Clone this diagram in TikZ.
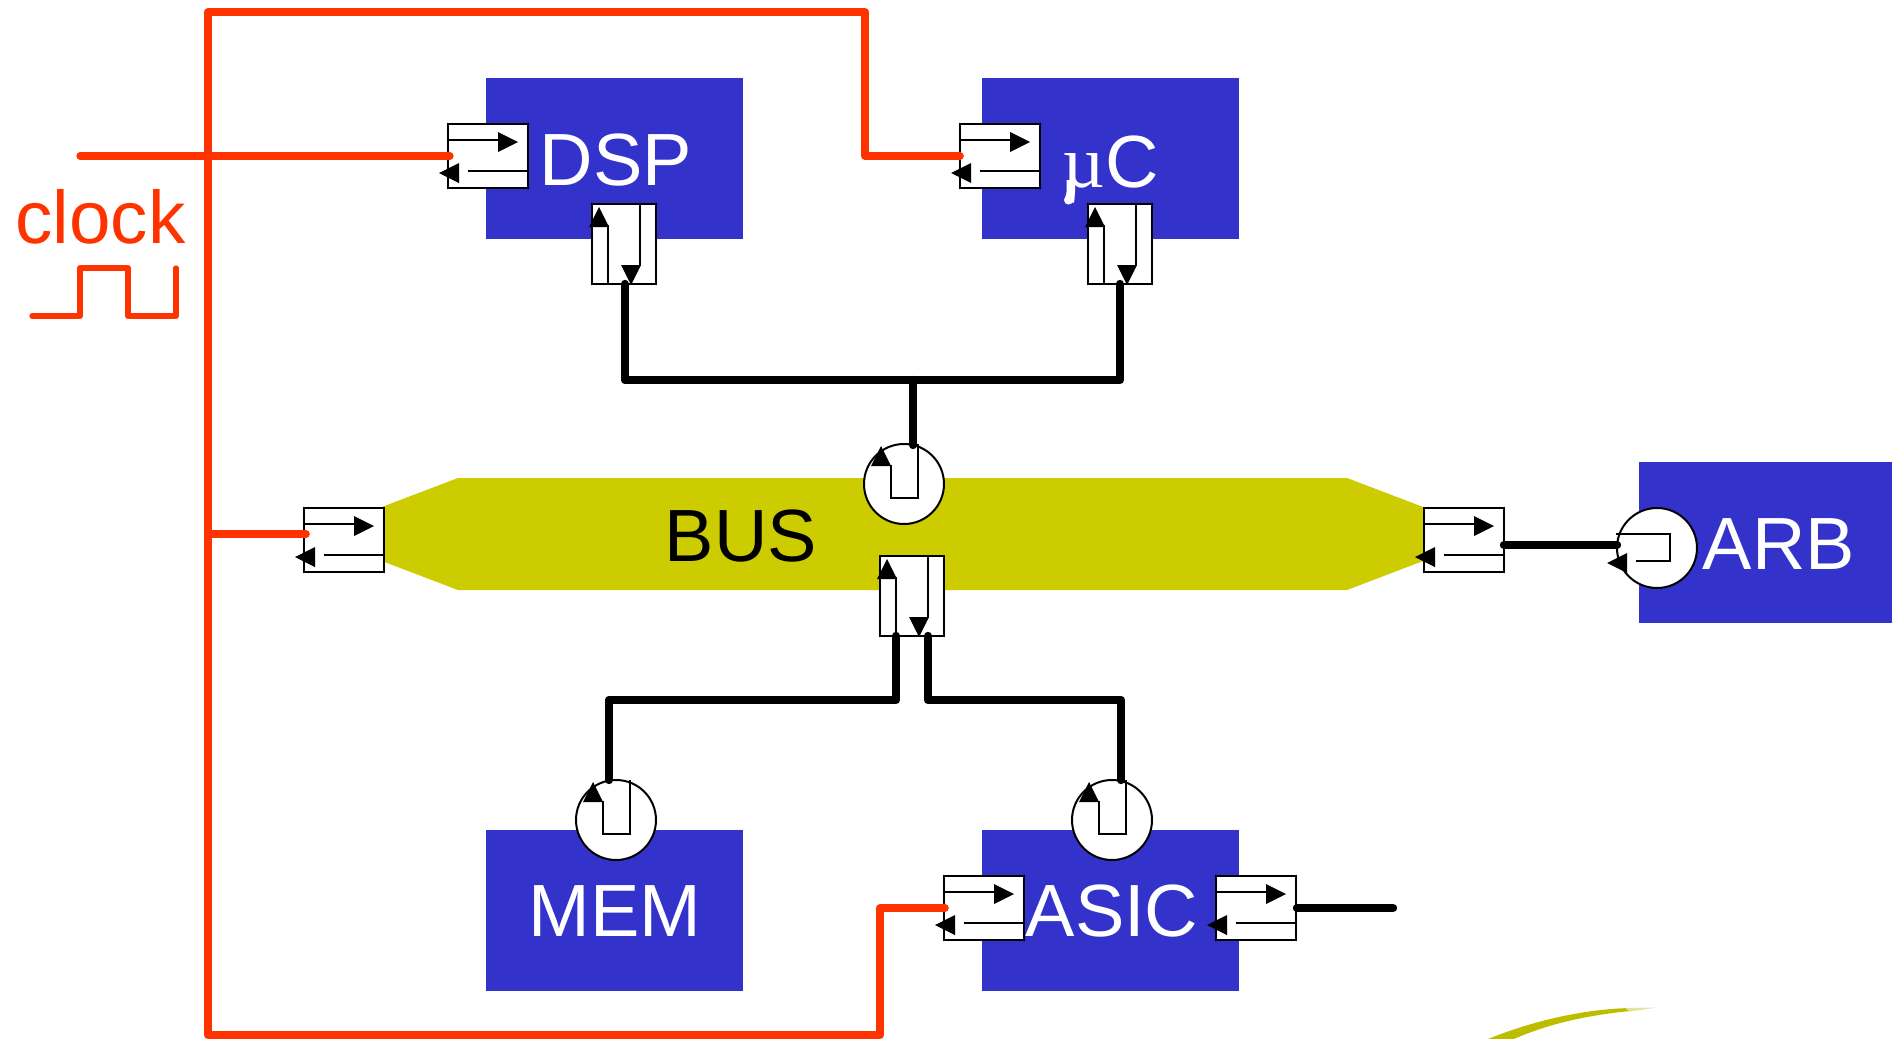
\documentclass[tikz,border=0pt]{standalone}
\usepackage{fontspec}
\setmainfont{Liberation Sans}
\newfontfamily\serifmu{Liberation Serif}
\definecolor{blockblue}{HTML}{3333CC}
\definecolor{busyellow}{HTML}{CCCC00}
\definecolor{clockred}{HTML}{FF3300}
\definecolor{swoosh}{HTML}{BDBD00}
\tikzset{
  blocklabel/.style={text=white,font=\fontsize{37}{37}\selectfont,anchor=base,inner sep=0pt},
  hregbox/.style={draw=black,fill=white,line width=1pt,minimum width=40pt,minimum height=32pt,inner sep=0pt,outer sep=0pt,anchor=north west},
  vregbox/.style={draw=black,fill=white,line width=1pt,minimum width=32pt,minimum height=40pt,inner sep=0pt,outer sep=0pt,anchor=north west},
  portcircle/.style={circle,draw=black,fill=white,line width=1pt,minimum size=40pt,inner sep=0pt,outer sep=0pt},
  thinline/.style={draw=black,line width=1pt},
  tiphead/.style={fill=black,draw=none},
  redwire/.style={draw=clockred,line width=3.8pt,line cap=round,line join=round},
  blackwire/.style={draw=black,line width=4.2pt,line cap=round,line join=round},
}
% horizontal register: name, left, top
\newcommand{\hreg}[3]{%
  \node[hregbox] (#1) at (#2,#3) {};
  \begin{scope}[shift={(#2,#3)}]
    \draw[thinline] (0,15.5) -- (52,15.5);
    \fill[tiphead] (50,8) -- (70,18) -- (50,28) -- cycle;
    \draw[thinline] (80,47) -- (20,47);
    \fill[tiphead] (11,39) -- (-9,49) -- (11,59) -- cycle;
  \end{scope}}
% vertical register: name, left, top
\newcommand{\vreg}[3]{%
  \node[vregbox] (#1) at (#2,#3) {};
  \begin{scope}[shift={(#2,#3)}]
    \draw[thinline] (16,80) -- (16,22) -- (7,22);
    \fill[tiphead] (-3,23) -- (7,3) -- (17,23) -- cycle;
    \draw[thinline] (48,0) -- (48,62);
    \fill[tiphead] (29,61) -- (39,81) -- (49,61) -- cycle;
    \coordinate (#1-a) at (16,80);
    \coordinate (#1-b) at (48,80);
  \end{scope}}
% circular port, open to the top: name, centre x, centre y
\newcommand{\cport}[3]{%
  \node[portcircle] (#1) at (#2,#3) {};
  \begin{scope}[shift={(#2,#3)}]
    \draw[thinline] (14,-40) -- (14,14) -- (-13,14) -- (-13,-19);
    \fill[tiphead] (-33,-18) -- (-23,-38) -- (-13,-18) -- cycle;
    \coordinate (#1-t) at (9,-39);
  \end{scope}}
\begin{document}
\begin{tikzpicture}[x=0.5pt,y=-0.5pt]
\useasboundingbox[fill=white] (0,0) rectangle (1892,1039);
% swoosh at the corner
\fill[swoosh] (1488,1039) .. controls (1540,1018) and (1590,1009) .. (1630,1008)
   -- (1630,1011) .. controls (1590,1015) and (1550,1023) .. (1514,1039) -- cycle;
\fill[swoosh!40] (1625,1008) -- (1657,1007.5) -- (1630,1011.5) -- cycle;
% bus
\fill[busyellow] (311,534) -- (458,478) -- (1347,478) -- (1494,534) -- (1347,590) -- (458,590) -- cycle;
\node[anchor=base,inner sep=0pt,text=black,font=\fontsize{37}{37}\selectfont] (buslabel) at (741,561) {BUS};
% blocks
\fill[blockblue] (486,78) rectangle (743,239);
\fill[blockblue] (982,78) rectangle (1239,239);
\fill[blockblue] (1639,462) rectangle (1892,623);
\fill[blockblue] (486,830) rectangle (743,991);
\fill[blockblue] (982,830) rectangle (1239,991);
\node[blocklabel] (dsp) at (616,185.5) {DSP};
\node[blocklabel] (uc) at (1110.5,187) {{\serifmu µ}C};
\fill[white] (1066.5,180) -- (1070,180) -- (1070,192) .. controls (1071,196) and (1073,198) .. (1073,200)
   .. controls (1073,206) and (1064,206) .. (1064,200) .. controls (1064,198) and (1066.5,196) .. (1066.5,192) -- cycle;
\node[blocklabel] (arb) at (1779,569) {ARB};
\node[blocklabel] (mem) at (615,936.5) {MEM};
\node[blocklabel] (asic) at (1112,936.5) {ASIC};
% clock label
\node[anchor=base,inner sep=0pt,text=clockred,font=\fontsize{37.3}{37}\selectfont] (clk) at (100.5,243.5) {clock};
% registers
\hreg{rdsp}{448}{124}
\hreg{ruc}{960}{124}
\hreg{rbl}{304}{508}
\hreg{rbr}{1424}{508}
\hreg{rasl}{944}{876}
\hreg{rasr}{1216}{876}
\vreg{vdsp}{592}{204}
\vreg{vuc}{1088}{204}
\vreg{vbus}{880}{556}
\cport{pbus}{904}{484}
\cport{pmem}{616}{820}
\cport{pasic}{1112}{820}
% ARB port, open to the left
\node[portcircle] (parb) at (1657,548) {};
\draw[thinline] (1616,534) -- (1670,534) -- (1670,561) -- (1636,561);
\fill[tiphead] (1627,553) -- (1607,563) -- (1627,573) -- cycle;
% named ends
\coordinate (jn1) at (pbus-t |- 0,380);
\coordinate (c1) at (625,380);
\coordinate (c2) at (1120,380);
\coordinate (c3) at (609,700);
\coordinate (c4) at (896,700);
\coordinate (c5) at (928,700);
\coordinate (c6) at (1121,700);
\coordinate (d1) at (625,284);
\coordinate (d2) at (1120,284);
\coordinate (m1) at (609,780);
\coordinate (m2) at (1121,780);
\coordinate (b1) at (1504,545);
\coordinate (b2) at (1617,545);
\coordinate (e1) at (1297,908);
\coordinate (e2) at (1393,908);
% black wires
\draw[blackwire] (d1) -- (c1) -- (c2) -- (d2);
\draw[blackwire] (jn1) -- (pbus-t);
\draw[blackwire] (vbus-a) -- (c4) -- (c3) -- (m1);
\draw[blackwire] (vbus-b) -- (c5) -- (c6) -- (m2);
\draw[blackwire] (b1) -- (b2);
\draw[blackwire] (e1) -- (e2);
% red clock net
\coordinate (r1) at (208,12);
\coordinate (r2) at (865,12);
\coordinate (r3) at (865,156);
\coordinate (r4) at (208,1035);
\coordinate (r5) at (880,1035);
\coordinate (r6) at (880,908);
\coordinate (r7) at (208,534);
\coordinate (r8) at (306,534);
\coordinate (r9) at (80,156);
\coordinate (r10) at (450,156);
\coordinate (r11) at (960,156);
\coordinate (r12) at (945,908);
\draw[redwire] (r11) -- (r3) -- (r2) -- (r1) -- (r4) -- (r5) -- (r6) -- (r12);
\draw[redwire] (r7) -- (r8);
\draw[redwire,line width=3.6pt] (r9) -- (r10);
% waveform
\coordinate (w0) at (32,316);
\coordinate (w1) at (80,316);
\coordinate (w2) at (80,268);
\coordinate (w3) at (128,268);
\coordinate (w4) at (128,316);
\coordinate (w5) at (176,316);
\coordinate (w6) at (176,268);
\draw[redwire,line width=2.6pt] (w0) -- (w1) -- (w2) -- (w3) -- (w4) -- (w5) -- (w6);
\end{tikzpicture}
\end{document}
